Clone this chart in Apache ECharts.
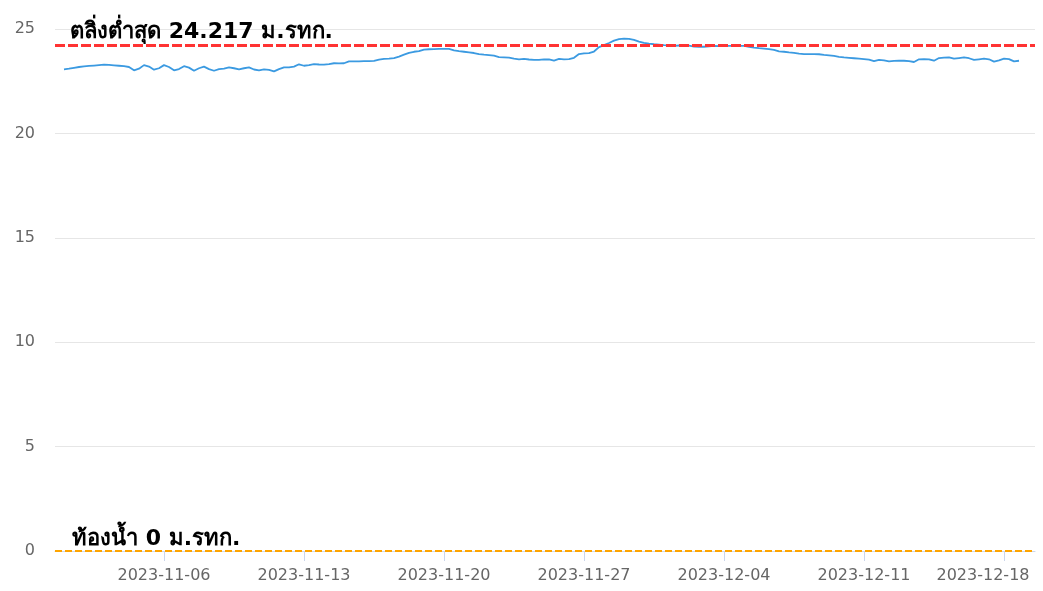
<!DOCTYPE html>
<html>
<head>
<meta charset="utf-8">
<script src="https://cdn.jsdelivr.net/npm/echarts@6/dist/echarts.min.js"></script>
<style>
html,body{margin:0;padding:0;background:#fff;}
#chart{width:1043px;height:591px;}
</style>
</head>
<body>
<div id="chart"></div>
<script>
// Water level (m MSL), 6-hourly from 2023-11-01 00:00
const startTime = [2023, 10, 1, 0];
const stepHours = 6;
const levels = [
  23.07,23.10,23.14,23.18,23.21,23.23,23.25,23.27,
  23.29,23.28,23.26,23.24,23.22,23.18,23.02,23.10,
  23.27,23.20,23.05,23.12,23.27,23.18,23.02,23.08,
  23.22,23.15,23.00,23.12,23.20,23.08,23.00,23.08,
  23.10,23.16,23.12,23.07,23.12,23.16,23.06,23.02,
  23.07,23.04,22.97,23.08,23.16,23.16,23.20,23.31,
  23.24,23.27,23.32,23.30,23.29,23.32,23.36,23.35,
  23.36,23.45,23.45,23.45,23.46,23.46,23.47,23.53,
  23.57,23.58,23.61,23.68,23.77,23.86,23.91,23.94,
  24.01,24.03,24.04,24.05,24.05,24.05,23.98,23.94,
  23.91,23.88,23.85,23.80,23.77,23.75,23.72,23.65,
  23.64,23.63,23.58,23.55,23.57,23.54,23.52,23.52,
  23.55,23.54,23.49,23.57,23.55,23.56,23.62,23.80,
  23.83,23.84,23.92,24.13,24.23,24.33,24.44,24.51,
  24.54,24.53,24.48,24.40,24.34,24.30,24.27,24.25,
  24.23,24.22,24.19,24.21,24.22,24.20,24.16,24.15,
  24.15,24.17,24.19,24.18,24.19,24.19,24.19,24.19,
  24.19,24.15,24.11,24.08,24.06,24.04,24.00,23.93,
  23.91,23.88,23.86,23.82,23.80,23.80,23.80,23.79,
  23.76,23.74,23.71,23.67,23.64,23.62,23.60,23.58,
  23.56,23.53,23.46,23.52,23.50,23.45,23.47,23.48,
  23.48,23.46,23.42,23.55,23.56,23.55,23.48,23.61,
  23.63,23.64,23.58,23.61,23.64,23.60,23.52,23.55,
  23.58,23.55,23.44,23.50,23.58,23.56,23.45,23.48
];
const tickDates = ['2023-11-06','2023-11-13','2023-11-20','2023-11-27','2023-12-04','2023-12-11','2023-12-18'];
const yTicks = [0, 5, 10, 15, 20, 25];
const bankLevel = 24.217;
const bankLabel = 'ตลิ่งต่ำสุด 24.217 ม.รทก.';
const bedLevel = 0;
const bedLabel = 'ท้องน้ำ 0 ม.รทก.';
const axisMinTime = [2023, 9, 31, 13.2];
const axisMaxTime = [2023, 11, 19, 13.2];

function mkTime(a){ return new Date(a[0], a[1], a[2], 0, 0, 0).getTime() + a[3]*3600000; }
function parseDay(s){ const p = s.split('-').map(Number); return new Date(p[0], p[1]-1, p[2]).getTime(); }

const t0 = mkTime(startTime);
const seriesData = levels.map((v, i) => [t0 + i*stepHours*3600000, v]);
const tickTimes = tickDates.map(parseDay);
function fmt(t){
  const d = new Date(t);
  const mm = String(d.getMonth()+1).padStart(2,'0');
  const dd = String(d.getDate()).padStart(2,'0');
  return d.getFullYear() + '-' + mm + '-' + dd;
}

const chart = echarts.init(document.getElementById('chart'), null, {renderer:'canvas'});
const FONT = '"DejaVu Sans", "Noto Sans", sans-serif';
chart.setOption({
  animation: false,
  backgroundColor: '#ffffff',
  grid: {left: 55, right: 8, top: 29, bottom: 40, containLabel: false},
  xAxis: {
    type: 'value',
    scale: true,
    min: mkTime(axisMinTime),
    max: mkTime(axisMaxTime),
    axisLine: {show: true, onZero: false, lineStyle: {color: '#ccd6eb', width: 1}},
    axisTick: {show: true, customValues: tickTimes, length: 10, lineStyle: {color: '#ccd6eb'}},
    splitLine: {show: false},
    axisLabel: {
      customValues: tickTimes,
      color: '#666666',
      fontSize: 16,
      fontFamily: FONT,
      margin: 17,
      formatter: function(v){
        const s = fmt(v);
        return s === tickDates[tickDates.length-1] ? '{last|' + s + '}' : s;
      },
      rich: {last: {color:'#666666', fontSize:16, fontFamily: FONT, padding:[0,42,0,0]}}
    }
  },
  yAxis: {
    type: 'value',
    min: 0, max: 25, interval: 5,
    axisLine: {show: false},
    axisTick: {show: false},
    splitLine: {lineStyle: {color: '#e6e6e6', width: 1}},
    axisLabel: {color: '#666666', fontSize: 16, fontFamily: FONT, margin: 20,
      formatter: function(v){ return yTicks.indexOf(v) >= 0 ? String(v) : ''; }}
  },
  series: [{
    type: 'line',
    data: seriesData,
    showSymbol: false,
    symbol: 'none',
    lineStyle: {color: '#3b9ae1', width: 1.8},
    markLine: {
      silent: true,
      symbol: ['none','none'],
      data: [
        {yAxis: bankLevel, name: bankLabel,
          lineStyle: {color: '#ff3333', width: 3, type: [10, 3]},
          label: {show: true, formatter: bankLabel, position: 'insideStartTop', distance: [15, 2],
            color: '#000', fontSize: 22, fontWeight: 'bold', fontFamily: FONT}},
        {yAxis: bedLevel, name: bedLabel,
          lineStyle: {color: '#ffa500', width: 2, type: [7, 3]},
          label: {show: true, formatter: bedLabel, position: 'insideStartTop', distance: [17, 1],
            color: '#000', fontSize: 22, fontWeight: 'bold', fontFamily: FONT}}
      ]
    }
  }]
});
</script>
</body>
</html>
